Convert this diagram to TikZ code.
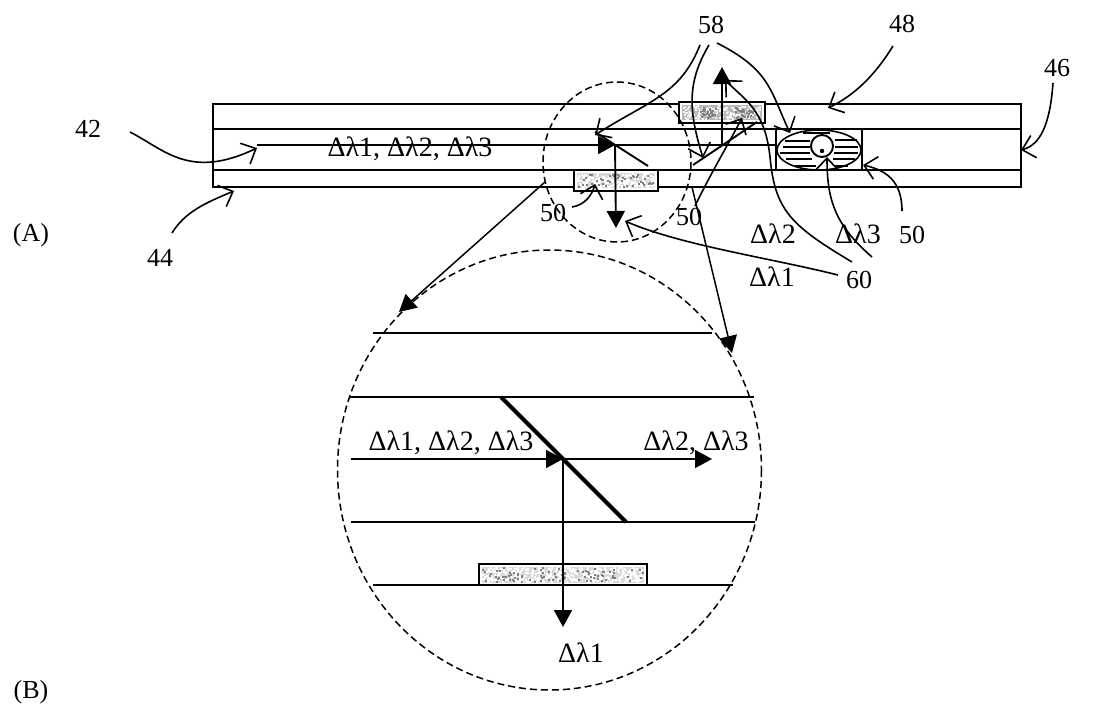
\documentclass[tikz,border=0pt]{standalone}
\usepackage{fontspec}
\setmainfont{Liberation Serif}
\usepackage{tikz}
\usetikzlibrary{arrows.meta, calc, positioning}
\tikzset{
  lbl/.style={inner sep=0pt, font=\fontsize{26}{26}\selectfont},
  wave/.style={inner sep=0pt, font=\fontsize{28}{28}\selectfont},
  wall/.style={line width=1.9pt},
  leader/.style={line width=1.6pt, -{Straight Barb[length=12pt,width=23pt,line width=1.6pt]}},
  beam/.style={line width=1.9pt, -{Triangle[length=17pt,width=18pt]}},
  ring/.style={line width=1.5pt, dash pattern=on 7pt off 4pt},
  grating/.style={draw, line width=1.8pt, fill=white},
  hatch/.style={line width=2.6pt}
}
\newcommand{\specks}[6]{%
  \foreach \i in {1,...,#5}
    \fill[#6] ({#1+rnd*(#3-#1)},{#2+rnd*(#4-#2)}) rectangle +(2,2);
}
\begin{document}
\begin{tikzpicture}[x=1pt,y=-1pt]
  \useasboundingbox (0,0) rectangle (1117,715);
  \pgfmathsetseed{42}
  % guide (A)
  \draw[wall] (213,104) rectangle (1021,187);
  \draw[wall] (213,129) -- (1021,129);
  \draw[wall] (213,170) -- (1021,170);
  \coordinate (in) at (257,145);
  \coordinate (splita) at (615,145);
  \coordinate (splitb) at (722,145);
  \draw[wall] (in) -- (776,145);
  \draw[grating] (679,102) rectangle (765,123);
  \fill[gray!55] (682,105) rectangle (762,120);
  \specks{682}{105}{760}{118}{170}{gray!10}
  \specks{700}{107}{715}{117}{30}{gray}
  \specks{735}{107}{752}{117}{30}{gray}
  \draw[grating] (574,170) rectangle (658,191);
  \fill[gray!30] (577,173) rectangle (655,188);
  \specks{577}{173}{653}{186}{200}{white}
  \specks{577}{173}{653}{186}{50}{gray}
  \draw[wall] (595,132) -- (648,166);
  \draw[wall] (693,165) -- (757,122);
  \draw[beam] (in) -- (splita);
  \draw[beam] (splita) -- (616,228);
  \draw[beam] (splitb) -- (722,67);
  % filter
  \draw[grating] (776,129) rectangle (862,170);
  \draw[line width=1.6pt] (819,150) ellipse [x radius=42, y radius=20];
  \foreach \yy/\xa/\xb in {133/803/830, 141/785/810, 147/783/810, 153/780/810, 159/786/812, 166/795/816}
    \draw[hatch] (\xa,\yy) -- (\xb,\yy);
  \foreach \yy/\xa/\xb in {140/835/857, 147/835/858, 153/834/858, 159/833/855, 166/835/848}
    \draw[hatch] (\xa,\yy) -- (\xb,\yy);
  \draw[line width=1.9pt, fill=white] (822,146) circle (11);
  \fill (822,151) circle (2.2);
  % small circle and the arrows down to (B)
  \draw[ring] (617,162) ellipse [x radius=74, y radius=80];
  \draw[ring] (549.5,470) ellipse [x radius=212, y radius=220];
  \coordinate (zooma) at (545,182);
  \coordinate (zoomb) at (692,187);
  \coordinate (zoomc) at (399,312);
  \coordinate (zoomd) at (732,353);
  \draw[beam, line width=1.5pt] (zooma) -- (zoomc);
  \draw[beam, line width=1.5pt] (zoomb) -- (zoomd);
  % detail (B)
  \draw[wall] (373,333) -- (712,333);
  \draw[wall] (350,397) -- (754,397);
  \draw[wall] (351,522) -- (755,522);
  \draw[wall] (373,585) -- (733,585);
  \draw[grating] (479,564) rectangle (647,585);
  \fill[gray!30] (482,567) rectangle (644,583);
  \specks{482}{567}{642}{581}{420}{white}
  \specks{482}{567}{642}{581}{90}{gray}
  \draw[line width=4.2pt] (501,397) -- (626,522);
  \coordinate (inb) at (351,459);
  \coordinate (splitc) at (563,459);
  \draw[beam] (inb) -- (splitc);
  \draw[beam] (splitc) -- (712,459);
  \draw[beam] (splitc) -- (563,627);
  % labels
  \node[wave] (mix) at (410,149) {Δλ1, Δλ2, Δλ3};
  \node[wave] (mixb) at (451,443) {Δλ1, Δλ2, Δλ3};
  \node[wave] (rest) at (696,443) {Δλ2, Δλ3};
  \node[wave] (outb) at (581,653) {Δλ1};
  \node[wave] (outa) at (772,277) {Δλ1};
  \node[wave] (outc) at (773,234) {Δλ2};
  \node[wave] (outd) at (858,234) {Δλ3};
  \node[lbl] (figa) at (31,235) {(A)};
  \node[lbl] (figb) at (31,692) {(B)};
  \node[lbl] (n42) at (88,129) {42};
  \node[lbl] (n44) at (160,258) {44};
  \node[lbl] (n46) at (1057,68) {46};
  \node[lbl] (n48) at (902,24) {48};
  \node[lbl] (n58) at (711,25) {58};
  \node[lbl] (n60) at (859,280) {60};
  \node[lbl] (n50a) at (553,213) {50};
  \node[lbl] (n50b) at (689,217) {50};
  \node[lbl] (n50c) at (912,235) {50};
  % leaders
  \draw[leader] ($(n42)+(42,3)$) .. controls (165,150) and (190,180) .. (257,148);
  \draw[leader] ($(n44)+(12,-25)$) .. controls (185,212) and (205,203) .. (234,191);
  \draw[leader] ($(n46)+(-4,15)$) .. controls (1050,125) and (1040,145) .. (1021,150);
  \draw[leader] ($(n48)+(-9,22)$) .. controls (875,75) and (855,95) .. (828,108);
  \draw[leader] ($(n58)+(-11,20)$) .. controls (680,95) and (650,100) .. (595,135);
  \draw[leader] ($(n58)+(-2,20)$) .. controls (685,85) and (690,115) .. (703,158);
  \draw[leader] ($(n58)+(6,18)$) .. controls (770,70) and (770,90) .. (790,133);
  \draw[leader] ($(n50a)+(19,-6)$) .. controls (585,205) and (592,195) .. (595,184);
  \draw[leader] ($(n50b)+(6,-11)$) .. controls (710,175) and (725,150) .. (742,118);
  \draw[leader] ($(n50c)+(-10,-24)$) .. controls (902,180) and (885,170) .. (863,165);
  \draw[leader] ($(n60)+(-21,-5)$) .. controls (770,258) and (680,245) .. (625,221);
  \draw[leader] ($(n60)+(-7,-18)$) .. controls (790,225) and (775,210) .. (770,157) .. controls (765,110) and (745,100) .. (725,80);
  \draw[leader] ($(n60)+(13,-23)$) .. controls (835,225) and (827,200) .. (827,157);
\end{tikzpicture}
\end{document}
